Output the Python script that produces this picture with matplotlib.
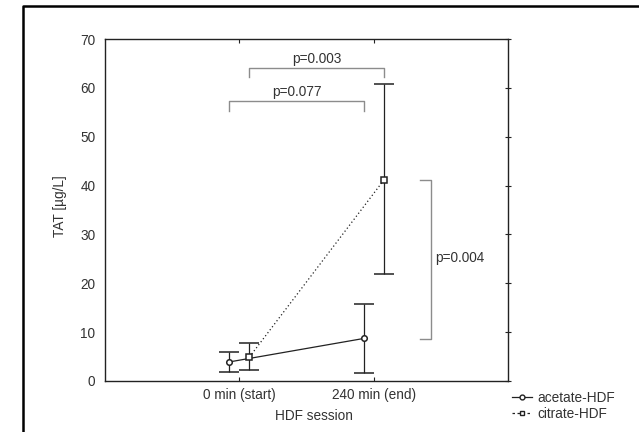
import matplotlib
matplotlib.use("Agg")
import matplotlib.pyplot as plt
from matplotlib.lines import Line2D

plt.rcParams["font.family"] = ["Liberation Sans", "DejaVu Sans"]

# data
sessions = ["0 min (start)", "240 min (end)"]
acetate_mean = [3.9, 8.7]
acetate_low = [1.9, 1.7]
acetate_high = [6.0, 15.7]
citrate_mean = [4.9, 41.1]
citrate_low = [2.3, 21.8]
citrate_high = [7.7, 60.7]

p_labels = ["p=0.003", "p=0.077", "p=0.004"]

TEXT = "#333333"
GRAY = "#8c8c8c"
FS = 9.8

fig = plt.figure(figsize=(6.39, 4.32), dpi=100)
W, H = 639, 432
ax = fig.add_axes([105 / W, 1 - 381 / H, 403 / W, 342 / H])

off = 0.075
x = [0, 1]
xa = [v - off for v in x]
xc = [v + off for v in x]

ya_err = [[m - lo for m, lo in zip(acetate_mean, acetate_low)],
          [hi - m for m, hi in zip(acetate_mean, acetate_high)]]
yc_err = [[m - lo for m, lo in zip(citrate_mean, citrate_low)],
          [hi - m for m, hi in zip(citrate_mean, citrate_high)]]

ax.errorbar(xa, acetate_mean, yerr=ya_err, color="#222222", lw=0.9,
            ls="-", marker="o", ms=4, mfc="white", mec="#222222", mew=1.1,
            capsize=7, capthick=0.9, elinewidth=0.9)
ax.errorbar(xc, citrate_mean, yerr=yc_err, color="#222222", lw=0.9,
            ls=(0, (1, 2)), marker="s", ms=4, mfc="white", mec="#222222",
            mew=1.1, capsize=7, capthick=0.9, elinewidth=0.9)

# significance brackets
def hbracket(x0, x1, y, drop, label):
    ax.plot([x0, x0, x1, x1], [y - drop, y, y, y - drop], color=GRAY,
            lw=1.0, clip_on=False)
    ax.text((x0 + x1) / 2, y + 0.4, label, ha="center", va="bottom",
            fontsize=FS, color=TEXT)

hbracket(xc[0], xc[1], 64.1, 1.9, p_labels[0])
hbracket(xa[0], xa[1], 57.4, 2.1, p_labels[1])

bx, bx0 = 1.425, 1.343
ax.plot([bx0, bx, bx, bx0], [41.1, 41.1, 8.6, 8.6], color=GRAY, lw=1.0)
ax.text(bx + 0.03, 25.2, p_labels[2], ha="left", va="center",
        fontsize=FS, color=TEXT)

ax.set_xlim(-1, 2)
ax.set_ylim(0, 70)
ax.set_xticks(x)
ax.set_xticklabels(sessions)
ax.set_yticks(range(0, 71, 10))
ax.tick_params(axis="x", direction="in", length=3, top=True, labelsize=FS,
               labelcolor=TEXT, color="#222222", pad=5)
ax.tick_params(axis="y", direction="inout", length=4, right=True, left=False,
               labelsize=FS, labelcolor=TEXT, color="#222222", pad=5)
for s in ax.spines.values():
    s.set_linewidth(1.0)
    s.set_color("#222222")

ax.set_xlabel("HDF session", fontsize=FS, color=TEXT, va="center")
ax.xaxis.set_label_coords(0.519, -0.102)
ax.set_ylabel("TAT [\u00b5g/L]", fontsize=FS, color=TEXT, va="center")
ax.yaxis.set_label_coords(-0.112, 0.51)

handles = [
    Line2D([], [], color="#222222", lw=0.9, ls="-", marker="o", ms=3.5,
           mfc="white", mec="#222222"),
    Line2D([], [], color="#222222", lw=0.9, ls=(0, (2, 2)), marker="s",
           ms=3.5, mfc="white", mec="#222222"),
]
fig.legend(handles, ["acetate-HDF", "citrate-HDF"], loc="upper left",
           bbox_to_anchor=(505 / W, 1 - 384 / H), frameon=False, fontsize=FS,
           handlelength=1.5, handletextpad=0.4, labelspacing=0.15,
           labelcolor=TEXT, borderpad=0.0)

# outer frame (only left and top visible)
fig.add_artist(Line2D([23 / W, 23 / W, 1.0], [0.0, 1 - 6 / H, 1 - 6 / H],
                      transform=fig.transFigure, color="black", lw=1.8))

fig.savefig("out.png", dpi=100)
